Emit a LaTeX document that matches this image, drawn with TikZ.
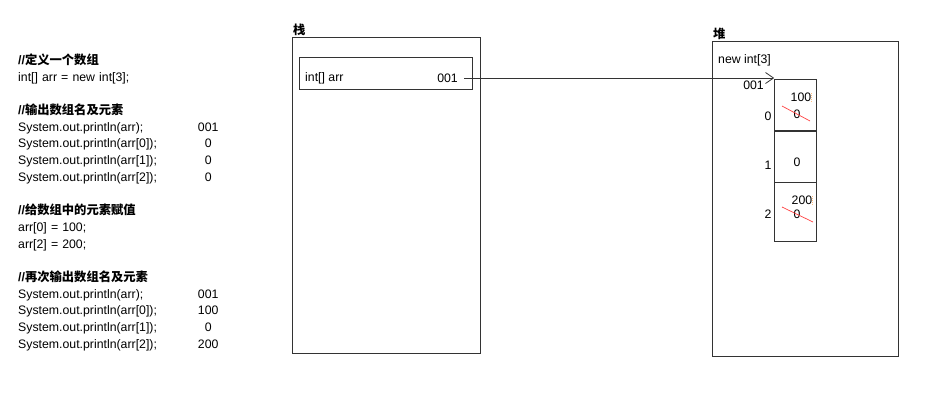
\documentclass[tikz,border=0pt]{standalone}
\usepackage{fontspec}
\setmainfont{Liberation Sans}
\newfontfamily\cjk{Noto Sans CJK SC}
\usetikzlibrary{matrix, calc, positioning, arrows.meta}
\newcommand{\cmt}[1]{{\bfseries//\cjk\bfseries #1}}
\tikzset{
listing/.style={
  matrix of nodes,
  inner sep=0pt,
  row sep=0pt,
  column sep=0pt,
  nodes={inner sep=0pt, text height=11.7pt, text depth=5pt},
  nodes in empty cells,
  column 1/.style={nodes={text width=170pt, align=left}},
  column 2/.style={nodes={text width=40pt, align=center}}
},
arrcells/.style={
  matrix of nodes,
  inner sep=0pt,
  row sep=-\pgflinewidth,
  nodes={draw=black!80, line width=0.8pt, minimum width=42pt, minimum height=51pt, inner sep=0pt},
  nodes in empty cells
},
box/.style={draw=black!80, line width=0.8pt, anchor=north west, inner sep=0pt},
lbl/.style={anchor=south west, inner sep=1pt, font=\fontsize{12.3}{14}\selectfont\cjk\bfseries},
val/.style={inner sep=0pt},
strike/.style={red!75, line width=0.7pt},
caret/.style={orange!50, line width=0.5pt, dash pattern=on 1.2pt off 0.8pt},
ptr/.style={draw=black!80, line width=0.8pt, -{Straight Barb[length=8pt, width=11pt]}}
}

\begin{document}
\begin{tikzpicture}[x=1pt, y=-1pt, font=\fontsize{12.3}{14.8}\selectfont]
\useasboundingbox (0,0) rectangle (948,400);

% code on the left
\matrix (src) [listing, anchor=north west] at (18,52.5) {
    \cmt{定义一个数组} & \\
    int[] arr = new int[3]; & \\
    & \\
    \cmt{输出数组名及元素} & \\
    System.out.println(arr); & 001 \\
    System.out.println(arr[0]); & 0 \\
    System.out.println(arr[1]); & 0 \\
    System.out.println(arr[2]); & 0 \\
    & \\
    \cmt{给数组中的元素赋值} & \\
    arr[0] = 100; & \\
    arr[2] = 200; & \\
    & \\
    \cmt{再次输出数组名及元素} & \\
    System.out.println(arr); & 001 \\
    System.out.println(arr[0]); & 100 \\
    System.out.println(arr[1]); & 0 \\
    System.out.println(arr[2]); & 200 \\
};

% stack
\node[box, minimum width=188pt, minimum height=316pt, label={[lbl]north west:栈}] (stack) at (292,37) {};
\node[box, minimum width=173pt, minimum height=32pt] (var) at (299,57) {};
\node[val, anchor=west] (name) at (305,78) {int[] arr};
\node[val, anchor=east] (ref) at (458,78) {001};

% heap
\node[box, minimum width=186pt, minimum height=315pt, label={[lbl]north west:堆}] (heap) at (712,41) {};
\node[val, anchor=west] (new) at (718,60) {new int[3]};
\node[val, anchor=east] (addr) at (764,85) {001};
\matrix (arr) [arrcells, anchor=north west] at (774,79) {
    \\
    \\
    |[minimum height=59pt]| \\
};
\node[val] (i0) at (768,116) {0};
\node[val] (i1) at (768,165) {1};
\node[val] (i2) at (768,214) {2};

\node[val] (v0) at (801,97) {100};
\node[val] (o0) at (797,114) {0};
\draw[strike] (782,106) -- (810,121);
\draw[caret] (811,93) -- (811,102);
\node[val] (v1) at (797,162) {0};
\node[val] (v2) at (802,200) {200};
\node[val] (o2) at (797,214) {0};
\draw[strike] (782,207) -- (813,222);
\draw[caret] (812,196) -- (812,205);

% reference
\draw[ptr] ([xshift=6pt]ref.east) -- (ref.east -| arr-1-1.north west);
\end{tikzpicture}
\end{document}
